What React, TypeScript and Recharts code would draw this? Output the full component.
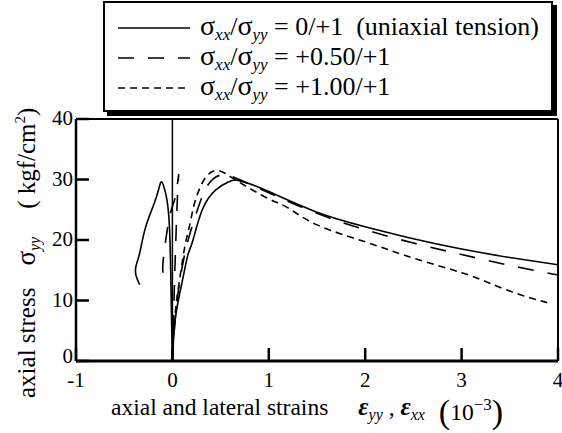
import React from "react";
import { LineChart, Line, XAxis, YAxis, ReferenceLine, Legend } from "recharts";

const serif = "Liberation Serif, Times New Roman, serif";

const xTicks = [-1, 0, 1, 2, 3, 4];
const yTicks = [0, 10, 20, 30, 40];

// stress ratio labels, one per loading case
const ratioLabels = ["0/+1", "+0.50/+1", "+1.00/+1"];
const ratioNotes = ["(uniaxial tension)", "", ""];

// strain in 10^-3, stress in kgf/cm2
// sigma_xx/sigma_yy = 0/+1
const uniAxialStrain = [0, 0.03, 0.1, 0.16, 0.21, 0.31, 0.45, 0.58, 0.67, 0.8, 1.0, 1.5, 2.0, 2.5, 3.0, 3.5, 4.0];
const uniAxialStress = [0, 7, 13, 17.5, 19.8, 25, 28.3, 29.6, 29.9, 29.3, 28, 24.6, 22.2, 20.2, 18.5, 17.1, 15.9];
const uniLateralStrain = [0, -0.01, -0.03, -0.07, -0.11, -0.14, -0.19, -0.28, -0.34, -0.38, -0.375, -0.34];
const uniLateralStress = [0, 8, 22, 27.7, 29.6, 28.5, 26, 22, 17.8, 15.5, 14, 12.6];

// sigma_xx/sigma_yy = +0.50/+1
const halfAxialStrain = [0, 0.035, 0.09, 0.14, 0.19, 0.26, 0.34, 0.43, 0.52, 0.6, 0.75, 1.0, 1.5, 2.0, 2.5, 3.0, 3.5, 4.0];
const halfAxialStress = [0, 8, 14.5, 18.5, 21.5, 25, 28.3, 30.2, 30.8, 30.6, 29.6, 27.8, 24.4, 21.7, 19.5, 17.6, 15.8, 14.2];
const halfLateralStrain = [0, 0.02, 0.04, 0.055, 0.065, 0.05, 0.02, -0.02, -0.06, -0.09, -0.1, -0.08];
const halfLateralStress = [0, 12, 22, 28, 30.8, 29, 26.5, 24.5, 21, 17.5, 15, 13];

// sigma_xx/sigma_yy = +1.00/+1 (lateral equals axial)
const equiStrain = [0, 0.03, 0.08, 0.13, 0.18, 0.22, 0.27, 0.33, 0.4, 0.47, 0.55, 0.7, 1.0, 1.2, 1.5, 2.0, 2.5, 3.0, 3.3, 3.6, 3.9];
const equiStress = [0, 8, 14, 19, 22.5, 25.5, 28, 30, 31.2, 31.5, 31, 29.5, 26.8, 25.3, 22.5, 19.7, 17, 14.6, 12.8, 11, 9.6];

const zip = (xs: number[], ys: number[]) => xs.map((x, i) => ({ x, y: ys[i] }));

const dashes = ["", "16 14", "7 5"];

const XTick = (props: any) => {
  const { x, y, payload } = props;
  return (
    <g>
      <line x1={x} y1={y} x2={x} y2={y - 13} stroke="#000" strokeWidth={2.5} />
      <text x={x} y={y + 26} textAnchor="middle" fontFamily={serif} fontSize={21} fill="#000">
        {payload.value}
      </text>
    </g>
  );
};

const YTick = (props: any) => {
  const { x, y, payload } = props;
  // lift the bottom label a little so it clears the "-1" below it
  const shift = payload.value === 0 ? -5 : -1;
  return (
    <g>
      <line x1={x} y1={y} x2={x + 13} y2={y} stroke="#000" strokeWidth={2.5} />
      <text x={x - 3} y={y + shift} dy="0.35em" textAnchor="end" fontFamily={serif} fontSize={21} fill="#000">
        {payload.value}
      </text>
    </g>
  );
};

const XTitle = (props: any) => {
  const vb = props.viewBox || {};
  const x0 = (vb.x ?? 76) + 35;
  const y0 = (vb.y ?? 361) + 54;
  return (
    <text x={x0} y={y0} fontFamily={serif} fontSize={23.5} fill="#000">
      <tspan>axial and lateral strains</tspan>
      <tspan dx={30} fontStyle="italic" fontWeight="bold" fontSize={25}>ε</tspan>
      <tspan dy={5} fontSize={16} fontStyle="italic">yy</tspan>
      <tspan dy={-5}> , </tspan>
      <tspan fontStyle="italic" fontWeight="bold" fontSize={25}>ε</tspan>
      <tspan dy={5} fontSize={16} fontStyle="italic">xx</tspan>
      <tspan dy={3} dx={14} fontSize={34}>(</tspan>
      <tspan dy={-3}>10</tspan>
      <tspan dy={-10} fontSize={17}>−3</tspan>
      <tspan dy={13} fontSize={34}>)</tspan>
    </text>
  );
};

const YTitle = () => {
  const cx = 35;
  const cy = 398;
  return (
    <text
      x={cx}
      y={cy}
      transform={`rotate(-90 ${cx} ${cy})`}
      textAnchor="start"
      fontFamily={serif}
      fontSize={25}
      fill="#000"
    >
      <tspan>axial stress</tspan>
      <tspan dx={22} fontSize={27}>σ</tspan>
      <tspan dy={5} fontSize={16} fontStyle="italic">yy</tspan>
      <tspan dy={-5} dx={28}>( kgf/cm</tspan>
      <tspan dy={-10} fontSize={15}>2</tspan>
      <tspan dy={10}>)</tspan>
    </text>
  );
};

const sub = (s: string) => (
  <span style={{ fontSize: 17, fontStyle: "italic", position: "relative", top: 5 }}>{s}</span>
);

const LegendBox = () => (
  <div
    style={{
      boxSizing: "border-box",
      width: "100%",
      height: "100%",
      border: "2px solid #000",
      boxShadow: "4px 4px 0 #000",
      background: "#fff",
      padding: "10px 0 0 13px",
      fontFamily: serif,
      fontSize: 26,
      lineHeight: "30px",
      color: "#000",
    }}
  >
    {ratioLabels.map((r, i) => (
      <div key={r} style={{ display: "flex", alignItems: "center", height: 30 }}>
        <svg width={72} height={10} style={{ flex: "none" }}>
          <line x1={0} y1={5} x2={72} y2={5} stroke="#000" strokeWidth={1.6} strokeDasharray={dashes[i]} />
        </svg>
        <span style={{ marginLeft: 10, whiteSpace: "pre" }}>
          <span style={{ fontSize: 28 }}>σ</span>
          {sub("xx")}/<span style={{ fontSize: 28 }}>σ</span>
          {sub("yy")} = {r}
          {ratioNotes[i] ? "  " + ratioNotes[i] : ""}
        </span>
      </div>
    ))}
  </div>
);

export default function App() {
  return (
    <div style={{ position: "absolute", left: 0, top: 0, background: "#fff" }}>
      <LineChart width={562} height={433} margin={{ top: 119, right: 4, left: 0, bottom: 0 }}>
        <XAxis
          dataKey="x"
          type="number"
          domain={[-1, 4]}
          ticks={xTicks}
          allowDataOverflow
          height={72}
          tickLine={false}
          tickSize={0}
          tickMargin={0}
          tick={XTick}
          axisLine={{ stroke: "#000", strokeWidth: 3 }}
          label={XTitle}
        />
        <YAxis
          type="number"
          domain={[0, 40]}
          ticks={yTicks}
          allowDataOverflow
          width={76}
          tickLine={false}
          tickSize={0}
          tickMargin={0}
          tick={YTick}
          axisLine={{ stroke: "#000", strokeWidth: 2.5 }}
          label={YTitle}
        />
        <ReferenceLine y={40} stroke="#000" strokeWidth={2} />
        <ReferenceLine x={4} stroke="#000" strokeWidth={2} />
        <ReferenceLine x={0} stroke="#000" strokeWidth={1.5} />
        <Line data={zip(uniAxialStrain, uniAxialStress)} dataKey="y" type="natural" stroke="#000" strokeWidth={1.6} dot={false} isAnimationActive={false} />
        <Line data={zip(uniLateralStrain, uniLateralStress)} dataKey="y" type="natural" stroke="#000" strokeWidth={1.6} dot={false} isAnimationActive={false} legendType="none" />
        <Line data={zip(halfAxialStrain, halfAxialStress)} dataKey="y" type="natural" stroke="#000" strokeWidth={1.6} strokeDasharray={dashes[1]} dot={false} isAnimationActive={false} />
        <Line data={zip(halfLateralStrain, halfLateralStress)} dataKey="y" type="natural" stroke="#000" strokeWidth={1.6} strokeDasharray={dashes[1]} dot={false} isAnimationActive={false} legendType="none" />
        <Line data={zip(equiStrain, equiStress)} dataKey="y" type="natural" stroke="#000" strokeWidth={1.6} strokeDasharray={dashes[2]} dot={false} isAnimationActive={false} />
        <Legend
          layout="vertical"
          align="center"
          verticalAlign="middle"
          wrapperStyle={{ left: 103, top: 1, width: 450, height: 111 }}
          content={LegendBox}
        />
      </LineChart>
    </div>
  );
}
